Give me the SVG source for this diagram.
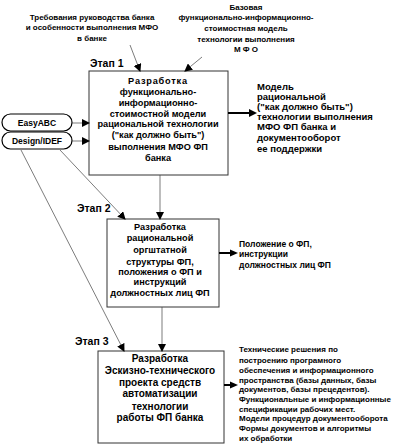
<svg xmlns="http://www.w3.org/2000/svg" width="410" height="448" viewBox="0 0 410 448">
<defs>
<marker id="ah" markerWidth="8" markerHeight="8" refX="7" refY="4" orient="auto" markerUnits="userSpaceOnUse">
<path d="M0,0 L8,4 L0,8 Z" fill="#000"/>
</marker>
<style>
text{font-family:"Liberation Sans",Arial,sans-serif;font-weight:bold;fill:#000}
.box{fill:#fff;stroke:#333;stroke-width:1}
.bt{font-size:9.2px;text-anchor:middle}
.b3{font-size:10px;text-anchor:middle}
.lab{font-size:8.5px}
.o1{font-size:9.5px}
.o3{font-size:8px}
.top{font-size:8px;text-anchor:middle}
.stage{font-size:10.5px}
.thin{stroke:#444;stroke-width:0.7;fill:none}
.thick{stroke:#000;stroke-width:2;fill:none}
.tool{fill:#fff;stroke:#000;stroke-width:1.2}
</style>
</defs>
<rect width="410" height="448" fill="#fff"/>

<g id="input1">
<text class="top" x="92" y="20">Требования руководства банка</text>
<text class="top" x="92" y="30">и особенности выполнения МФО</text>
<text class="top" x="92" y="41">в банке</text>
</g>
<g id="input2">
<text class="top" x="246" y="10">Базовая</text>
<text class="top" x="246" y="20">функционально-информационно-</text>
<text class="top" x="246" y="31">стоимостная модель</text>
<text class="top" x="246" y="42">технологии выполнения</text>
<text class="top" x="246" y="52">М Ф О</text>
</g>

<g id="tool-easyabc">
<rect class="tool" x="2" y="114" width="70" height="17" rx="8.5"/>
<text class="lab" x="37" y="126" text-anchor="middle">EasyABC</text>
</g>
<g id="tool-designidef">
<rect class="tool" x="2" y="132" width="70" height="17" rx="8.5"/>
<text class="lab" x="37" y="144" text-anchor="middle">Design/IDEF</text>
</g>

<g id="stage1">
<text class="stage" x="90" y="67">Этап 1</text>
<rect class="box" x="89" y="71" width="139" height="104"/>
<text class="bt" x="158" y="84" letter-spacing="0.8">Разработка</text>
<text class="bt" x="158" y="95">функционально-</text>
<text class="bt" x="158" y="106">информационно-</text>
<text class="bt" x="158" y="117">стоимостной модели</text>
<text class="bt" x="158" y="127">рациональной технологии</text>
<text class="bt" x="158" y="138">("как должно быть")</text>
<text class="bt" x="158" y="150">выполнения МФО ФП</text>
<text class="bt" x="158" y="161">банка</text>
</g>
<g id="output1">
<text class="o1" x="257" y="90">Модель</text>
<text class="o1" x="257" y="100">рациональной</text>
<text class="o1" x="257" y="110">("как должно быть")</text>
<text class="o1" x="257" y="120">технологии выполнения</text>
<text class="o1" x="257" y="130">МФО ФП банка и</text>
<text class="o1" x="257" y="141">документооборот</text>
<text class="o1" x="257" y="152">ее поддержки</text>
</g>

<g id="stage2">
<text class="stage" x="77" y="212">Этап 2</text>
<rect class="box" x="107" y="219" width="112" height="88"/>
<text class="bt" x="160" y="230">Разработка</text>
<text class="bt" x="160" y="241">рациональной</text>
<text class="bt" x="160" y="253">оргштатной</text>
<text class="bt" x="160" y="265">структуры ФП,</text>
<text class="bt" x="160" y="275">положения о ФП и</text>
<text class="bt" x="160" y="285">инструкций</text>
<text class="bt" x="160" y="296">должностных лиц ФП</text>
</g>
<g id="output2">
<text class="lab" x="239" y="247">Положение о ФП,</text>
<text class="lab" x="239" y="257">инструкции</text>
<text class="lab" x="239" y="268">должностных лиц ФП</text>
</g>

<g id="stage3">
<text class="stage" x="75" y="345">Этап 3</text>
<rect class="box" x="98" y="351" width="126" height="92"/>
<text class="b3" x="160" y="362">Разработка</text>
<text class="b3" x="160" y="374">Эскизно-технического</text>
<text class="b3" x="160" y="386">проекта средств</text>
<text class="b3" x="160" y="397">автоматизации</text>
<text class="b3" x="160" y="410">технологии</text>
<text class="b3" x="160" y="421">работы ФП банка</text>
</g>
<g id="output3">
<text class="o3" x="239" y="352">Технические решения по</text>
<text class="o3" x="239" y="363"> построению програмного</text>
<text class="o3" x="239" y="373">обеспечения и информационного</text>
<text class="o3" x="239" y="383">пространства (базы данных, базы</text>
<text class="o3" x="239" y="392">документов, базы прецедентов).</text>
<text class="o3" x="239" y="402">Функциональные и информационные</text>
<text class="o3" x="239" y="412">спецификации рабочих мест.</text>
<text class="o3" x="239" y="421">Модели процедур документооборота</text>
<text class="o3" x="239" y="431">Формы документов и алгоритмы</text>
<text class="o3" x="239" y="441">их обработки</text>
</g>

<g id="connectors">
<line class="thin" x1="130" y1="45" x2="140" y2="71" marker-end="url(#ah)"/>
<line class="thin" x1="202" y1="57" x2="185" y2="71" marker-end="url(#ah)"/>
<line class="thin" x1="72" y1="123" x2="89" y2="123" marker-end="url(#ah)"/>
<line class="thin" x1="72" y1="141" x2="89" y2="141" marker-end="url(#ah)"/>
<line class="thick" x1="228" y1="113" x2="250" y2="113"/>
<path d="M249,109 L257,113 L249,117 Z" fill="#000"/>
<line class="thin" x1="160" y1="175" x2="160" y2="219" marker-end="url(#ah)"/>
<line class="thin" x1="60" y1="150" x2="125" y2="219" marker-end="url(#ah)"/>
<line class="thin" x1="21" y1="150" x2="124" y2="351" marker-end="url(#ah)"/>
<line class="thick" x1="219" y1="253" x2="231" y2="253"/>
<path d="M230,249.5 L238,253 L230,256.5 Z" fill="#000"/>
<line class="thin" x1="162" y1="307" x2="162" y2="351" marker-end="url(#ah)"/>
<line class="thick" x1="224" y1="385" x2="231" y2="385"/>
<path d="M230,381.5 L238,385 L230,388.5 Z" fill="#000"/>
</g>
</svg>
